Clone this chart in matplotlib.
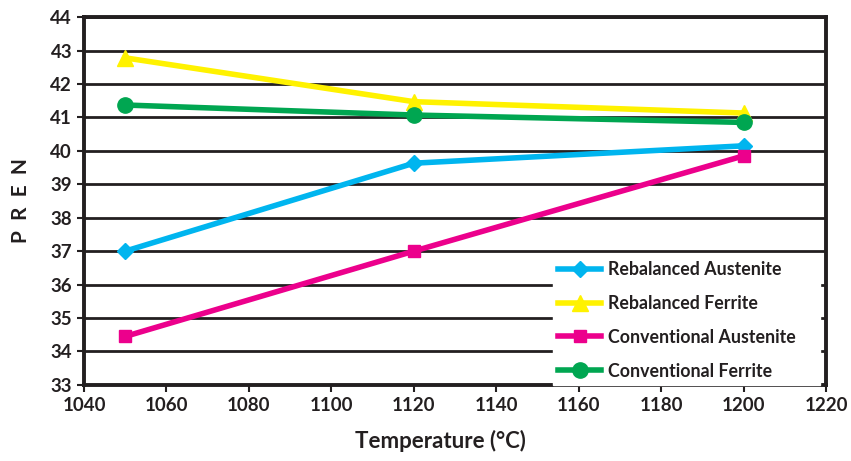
import matplotlib
matplotlib.use("Agg")
import matplotlib.pyplot as plt

temps = [1050, 1120, 1200]
rebal_aus = [37.0, 39.63, 40.15]
rebal_fer = [42.78, 41.47, 41.13]
conv_aus = [34.45, 37.0, 39.85]
conv_fer = [41.37, 41.07, 40.85]
labels = ["Rebalanced Austenite", "Rebalanced Ferrite", "Conventional Austenite", "Conventional Ferrite"]
xticks = list(range(1040, 1221, 20))
yticks = list(range(33, 45))

plt.rcParams['font.family'] = ['Lato', 'DejaVu Sans']
fig = plt.figure(figsize=(8.51, 4.61), dpi=100)
ax = fig.add_axes([0.0987, 0.165, 0.872, 0.798])
ax.set_xlim(1040, 1220)
ax.set_ylim(33, 44)
ax.set_xticks(xticks)
ax.set_yticks(yticks)
ax.yaxis.grid(True, color='#231f20', linewidth=2.0)
ax.set_axisbelow(True)
for s in ax.spines.values():
    s.set_linewidth(2.8)
    s.set_color('#231f20')
ax.tick_params(axis='both', length=5, width=1.5, color='#231f20', labelsize=13.5, labelcolor='#231f20')
for lab in ax.get_xticklabels() + ax.get_yticklabels():
    lab.set_fontweight('bold')

series = [
    (rebal_aus, '#00b5ef', 'D', 8),
    (rebal_fer, '#fff200', '^', 11),
    (conv_aus, '#ec008c', 's', 9),
    (conv_fer, '#00a651', 'o', 11),
]
for (vals, c, m, ms), lab in zip(series, labels):
    ax.plot(temps, vals, color=c, marker=m, markersize=ms, linewidth=4, label=lab, zorder=3)

leg = ax.legend(loc='lower left', bbox_to_anchor=(0.632, 0.0, 0.36, 0.3), mode='expand',
                frameon=True, fancybox=False,
                edgecolor='white', framealpha=1.0, fontsize=12.8, labelspacing=0.95,
                handlelength=2.4, borderpad=0.3, handletextpad=0.4, borderaxespad=0.0)
for t in leg.get_texts():
    t.set_fontweight('bold')
    t.set_color('#231f20')

ax.set_xlabel('Temperature (°C)', fontsize=16, fontweight='bold', color='#231f20', labelpad=12, x=0.48)
ax.set_ylabel('P  R  E  N', fontsize=15, fontweight='bold', color='#231f20', labelpad=14)

fig.savefig('out.png', dpi=100)
